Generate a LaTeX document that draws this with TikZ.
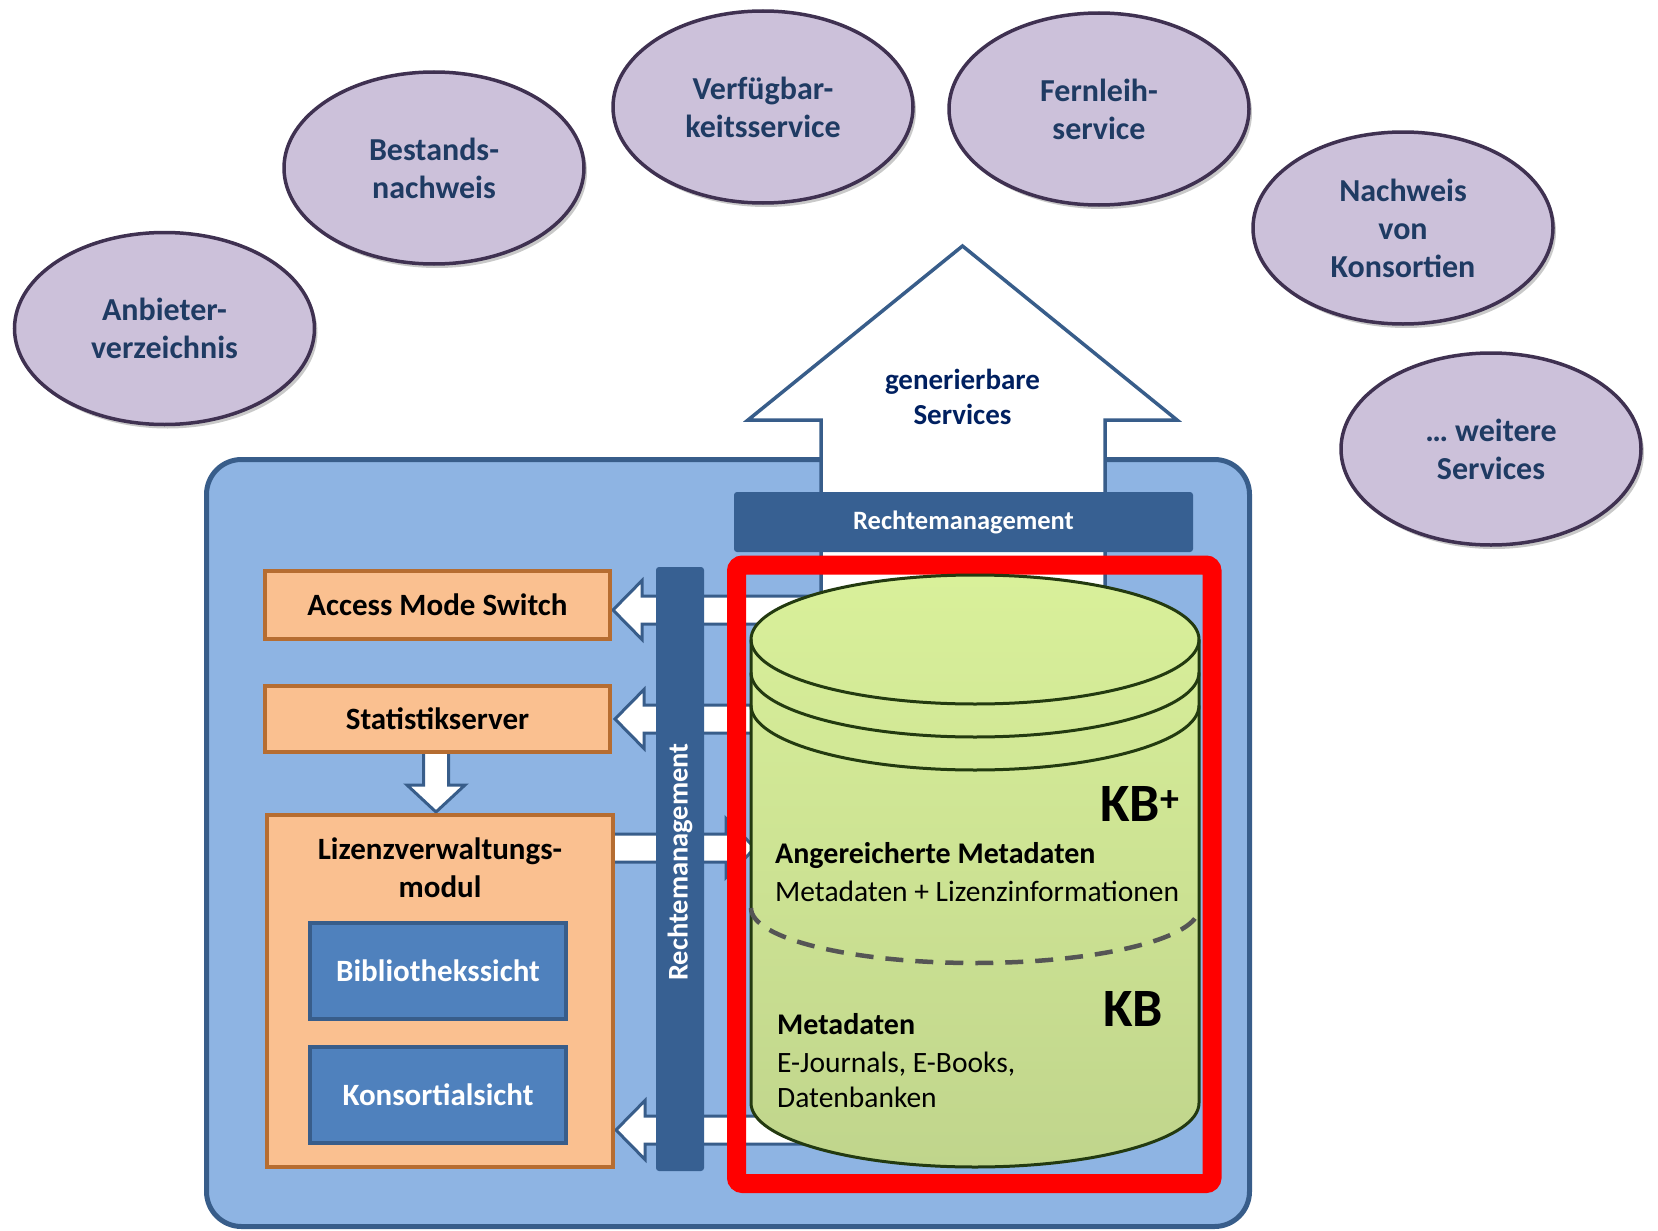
\documentclass[tikz,border=0pt]{standalone}
\usepackage{fontspec}
\setmainfont{Carlito}
\usetikzlibrary{shapes.geometric,shadows}
\definecolor{svcfill}{HTML}{CCC1DA}
\definecolor{svcborder}{HTML}{3F3151}
\definecolor{svctext}{HTML}{1F3B63}
\definecolor{bigfill}{HTML}{8EB4E3}
\definecolor{bborder}{HTML}{385D8A}
\definecolor{barblue}{HTML}{376092}
\definecolor{ofill}{HTML}{FAC090}
\definecolor{oborder}{HTML}{B66D31}
\definecolor{bfill}{HTML}{4F81BD}
\definecolor{navy}{HTML}{002060}
\definecolor{cyltop}{HTML}{D9F09A}
\definecolor{cylbot}{HTML}{C0D58C}
\definecolor{cylline}{HTML}{233A10}
\definecolor{dashgray}{HTML}{555555}
\begin{document}
\begin{tikzpicture}[x=1pt,y=-1pt,
  svc/.style={ellipse, draw=svcborder, line width=3.5pt, fill=svcfill,
    minimum width=300pt, minimum height=192pt, inner sep=0pt, align=center,
    text=svctext, font=\fontsize{32}{38}\selectfont\bfseries,
    drop shadow={shadow xshift=3pt, shadow yshift=-4pt, opacity=0.3, fill=black!70}},
  container/.style={draw=bborder, fill=bigfill, line width=5pt, rounded corners=35pt, inner sep=0pt},
  obox/.style={draw=oborder, fill=ofill, line width=4pt, inner sep=0pt,
    font=\fontsize{31}{37}\selectfont\bfseries},
  bbox/.style={draw=bborder, fill=bfill, line width=4pt, inner sep=0pt, text=white,
    font=\fontsize{31}{37}\selectfont\bfseries},
  bar/.style={fill=barblue, rounded corners=3pt, inner sep=0pt, text=white},
  blockarrow/.style={draw=bborder, fill=white, line width=3pt, line join=miter},
  redframe/.style={draw=red, line width=19pt, rounded corners=6pt, inner sep=0pt},
  cyl/.style={draw=cylline, line width=3pt},
  cyltext/.style={anchor=base west, inner sep=0pt, font=\fontsize{29.5}{36}\selectfont},
  kbtext/.style={anchor=base west, inner sep=0pt, font=\fontsize{54}{60}\selectfont\bfseries}
]
\useasboundingbox (0,0) rectangle (1658,1231);

% service ellipses
\node[svc] (s1) at (164.5,328.5) {Anbieter-\\verzeichnis};
\node[svc] (s2) at (434,168) {Bestands-\\nachweis};
\node[svc] (s3) at (763,107) {Verfügbar-\\keitsservice};
\node[svc] (s4) at (1099,109) {Fernleih-\\service};
\node[svc] (s5) at (1403,228) {Nachweis\\von\\Konsortien};
\node[svc] (s6) at (1491,449) {… weitere\\Services};

% container
\node[container, minimum width=1043pt, minimum height=767pt] (kbox) at (728,843) {};

% up arrow
\filldraw[blockarrow, line width=3.5pt] (821,640) -- (821,420) -- (748,420) -- (962.5,246)
  -- (1177,420) -- (1105,420) -- (1105,640) -- cycle;
\node[align=center, text=navy, font=\fontsize{29}{35}\selectfont\bfseries] (gen) at (962.5,397)
  {generierbare\\Services};

% horizontal rights bar
\node[bar, minimum width=459pt, minimum height=60pt, font=\fontsize{26.5}{32}\selectfont\bfseries]
  (rmh) at (963.5,522) {Rechtemanagement};

% block arrows
\filldraw[blockarrow] (613,610) -- (642,580.5) -- (642,596) -- (830,596) -- (830,624)
  -- (642,624) -- (642,639.5) -- cycle;
\filldraw[blockarrow] (615,719) -- (644,689.5) -- (644,705) -- (830,705) -- (830,733)
  -- (644,733) -- (644,748.5) -- cycle;
\filldraw[blockarrow] (612,834) -- (726,834) -- (726,818.5) -- (755,848) -- (726,877.5)
  -- (726,862) -- (612,862) -- cycle;
\filldraw[blockarrow] (616,1130) -- (645,1100.5) -- (645,1116) -- (830,1116) -- (830,1144)
  -- (645,1144) -- (645,1159.5) -- cycle;
\filldraw[blockarrow] (423.5,752) -- (423.5,785) -- (407,785) -- (436,812) -- (465,785)
  -- (448.5,785) -- (448.5,752) -- cycle;

% vertical rights bar
\node[bar, minimum width=48pt, minimum height=604pt] (rmv) at (680,869) {};
\node[rotate=90, text=white, inner sep=0pt, font=\fontsize{28.5}{34}\selectfont\bfseries]
  (rmvt) at (680,862) {Rechtemanagement};

% orange boxes
\node[obox, minimum width=345pt, minimum height=68pt] (ams) at (437.5,605) {Access Mode Switch};
\node[obox, minimum width=345pt, minimum height=66pt] (stat) at (437.5,719) {Statistikserver};
\node[obox, minimum width=346pt, minimum height=352pt] (lvm) at (440,991) {};
\node[align=center, inner sep=0pt, font=\fontsize{31}{38}\selectfont\bfseries] (lvmt) at (440,868)
  {Lizenzverwaltungs-\\modul};
\node[bbox, minimum width=256pt, minimum height=96pt] (bib) at (438,971) {Bibliothekssicht};
\node[bbox, minimum width=256pt, minimum height=96pt] (kon) at (438,1095) {Konsortialsicht};

% red frame
\node[redframe, minimum width=475.5pt, minimum height=618.5pt] (sel) at (974.25,874.25) {};

% cylinder
\shade[top color=cyltop, bottom color=cylbot] (751,639.5) -- (751,1103)
  arc[start angle=180, end angle=0, x radius=224, y radius=64]
  -- (1199,639.5) arc[start angle=0, end angle=-180, x radius=224, y radius=64.5] -- cycle;
\draw[cyl] (751,639.5) -- (751,1103)
  arc[start angle=180, end angle=0, x radius=224, y radius=64]
  -- (1199,639.5) arc[start angle=0, end angle=-180, x radius=224, y radius=64.5] -- cycle;
\draw[cyl] (751,639.5) arc[start angle=180, end angle=0, x radius=224, y radius=64.5];
\draw[cyl] (751,672.5) arc[start angle=180, end angle=0, x radius=224, y radius=64.5];
\draw[cyl] (751,705.5) arc[start angle=180, end angle=0, x radius=224, y radius=64.5];
\draw[dashgray, line width=4.5pt, dash pattern=on 18pt off 12pt] (751,908)
  arc[start angle=180, end angle=0, x radius=224, y radius=55];

% cylinder texts
\node[kbtext] (kbp) at (1100,821) {KB\textsuperscript{+}};
\node[cyltext, font=\fontsize{30}{36}\selectfont\bfseries] (ang) at (775,863) {Angereicherte Metadaten};
\node[cyltext] (mli) at (775,901) {Metadaten + Lizenzinformationen};
\node[kbtext] (kb) at (1103,1026) {KB};
\node[cyltext, font=\fontsize{30}{36}\selectfont\bfseries] (meta) at (777,1034) {Metadaten};
\node[cyltext] (ejo) at (777,1072) {E-Journals, E-Books,};
\node[cyltext] (dbk) at (777,1107) {Datenbanken};
\end{tikzpicture}
\end{document}
